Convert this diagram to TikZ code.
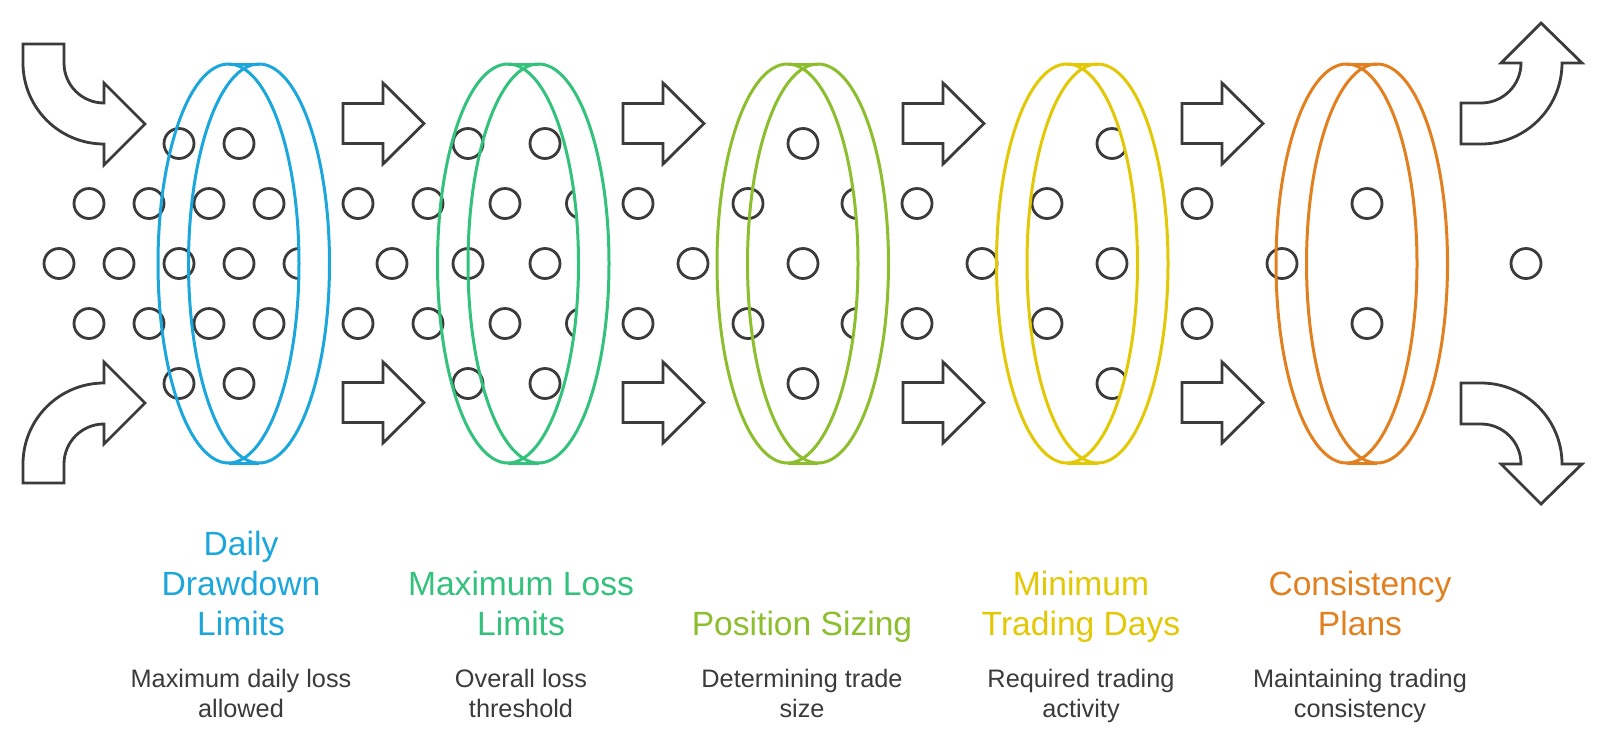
\documentclass[tikz,border=0pt]{standalone}
\usepackage{fontspec}
\setmainfont{Liberation Sans}
\definecolor{cblue}{HTML}{1BA7DB}
\definecolor{cgreen}{HTML}{33C27C}
\definecolor{colive}{HTML}{8CBE2E}
\definecolor{cyellow}{HTML}{E2C805}
\definecolor{corange}{HTML}{E2801F}
\definecolor{ink}{HTML}{3B3B3B}
\tikzset{
  shape arrow/.style={draw=ink, line width=2.8pt, fill=white, line join=miter},
  dot/.style={draw=ink, line width=2.8pt},
  ring/.style={line width=3pt},
  title/.style={align=center, anchor=base, font=\fontsize{33.6}{40}\selectfont, inner sep=0pt},
  desc/.style={align=center, anchor=base, text=ink, font=\fontsize{25.3}{30}\selectfont, inner sep=0pt}
}
\begin{document}
\begin{tikzpicture}[x=1pt,y=-1pt]
\useasboundingbox (0,0) rectangle (1600,748);
\fill[white] (0,0) rectangle (1600,748);

% circles (particles)
\foreach \x/\y in {59/263.5,119/263.5,179/263.5,239/263.5,299/263.5,
  89/203.5,149/203.5,209/203.5,269/203.5,89/323.5,149/323.5,209/323.5,269/323.5,
  179/143.5,239/143.5,179/383.5,239/383.5,
  358/203.5,428/203.5,505/203.5,581.5/203.5,358/323.5,428/323.5,505/323.5,581.5/323.5,
  392/263.5,468/263.5,545/263.5,468/143.5,545/143.5,468/383.5,545/383.5,
  638/203.5,638/323.5,748/203.5,748/323.5,857/203.5,857/323.5,
  693/263.5,803/263.5,803/143.5,803/383.5,
  917/203.5,917/323.5,1047/203.5,1047/323.5,982/263.5,1112/263.5,1112/143.5,1112/383.5,
  1197/203.5,1197/323.5,1367/203.5,1367/323.5,1282/263.5,1526/263.5}
  \draw[dot] (\x,\y) circle[radius=15];

% filter rings
\foreach \L/\c in {228.5/cblue, 508/cgreen, 787.5/colive, 1067/cyellow, 1346.5/corange} {
  \begin{scope}
    \clip ({\L+15.25},40) rectangle ({\L+120},490);
    \fill[white, even odd rule] ({\L+30.5},263.5) ellipse[x radius=70.5, y radius=199.5]
      (\L,263.5) ellipse[x radius=70.5, y radius=199.5];
  \end{scope}
  \draw[ring, draw=\c] (\L,263.5) ellipse[x radius=70.5, y radius=199.5];
  \draw[ring, draw=\c] ({\L+30.5},263.5) ellipse[x radius=70.5, y radius=199.5];
  \draw[ring, draw=\c] (\L,64) -- ({\L+30.5},64);
  \draw[ring, draw=\c] (\L,463) -- ({\L+30.5},463);
}

% straight arrows
\foreach \T in {343,623,903,1182} {
  \foreach \c in {123.5,402.5} {
    \draw[shape arrow] (\T,{\c-20}) -- ({\T+40},{\c-20}) -- ({\T+40},{\c-40.5}) -- ({\T+81},\c)
      -- ({\T+40},{\c+40.5}) -- ({\T+40},{\c+20}) -- (\T,{\c+20}) -- cycle;
  }
}

% curved arrows, left
\draw[shape arrow] (23,44) -- (64,44) -- (64,63) arc[start angle=180, end angle=90, radius=40]
  -- (104,83) -- (145,124) -- (104,165) -- (104,144) arc[start angle=90, end angle=180, radius=81] -- cycle;
\draw[shape arrow] (23,483) -- (64,483) -- (64,464) arc[start angle=180, end angle=270, radius=40]
  -- (104,444) -- (145,403) -- (104,362) -- (104,383) arc[start angle=270, end angle=180, radius=81] -- cycle;

% curved arrows, right
\draw[shape arrow] (1461,103) -- (1481,103) arc[start angle=90, end angle=0, radius=40]
  -- (1501,63) -- (1541,23) -- (1582,63) -- (1562,63) arc[start angle=0, end angle=90, radius=81]
  -- (1461,144) -- cycle;
\draw[shape arrow] (1461,424) -- (1481,424) arc[start angle=270, end angle=360, radius=40]
  -- (1501,464) -- (1541,504) -- (1582,464) -- (1562,464) arc[start angle=360, end angle=270, radius=81]
  -- (1461,383) -- cycle;

% titles (base = last line's baseline)
\node[title, text=cblue] (t1) at (241,635) {Daily\\Drawdown\\Limits};
\node[title, text=cgreen] (t2) at (521,635) {Maximum Loss\\Limits};
\node[title, text=colive] (t3) at (802,635) {Position Sizing};
\node[title, text=cyellow] (t4) at (1081,635) {Minimum\\Trading Days};
\node[title, text=corange] (t5) at (1360,635) {Consistency\\Plans};

% descriptions
\node[desc] (d1) at (241,717) {Maximum daily loss\\allowed};
\node[desc] (d2) at (521,717) {Overall loss\\threshold};
\node[desc] (d3) at (802,717) {Determining trade\\size};
\node[desc] (d4) at (1081,717) {Required trading\\activity};
\node[desc] (d5) at (1360,717) {Maintaining trading\\consistency};
\end{tikzpicture}
\end{document}
